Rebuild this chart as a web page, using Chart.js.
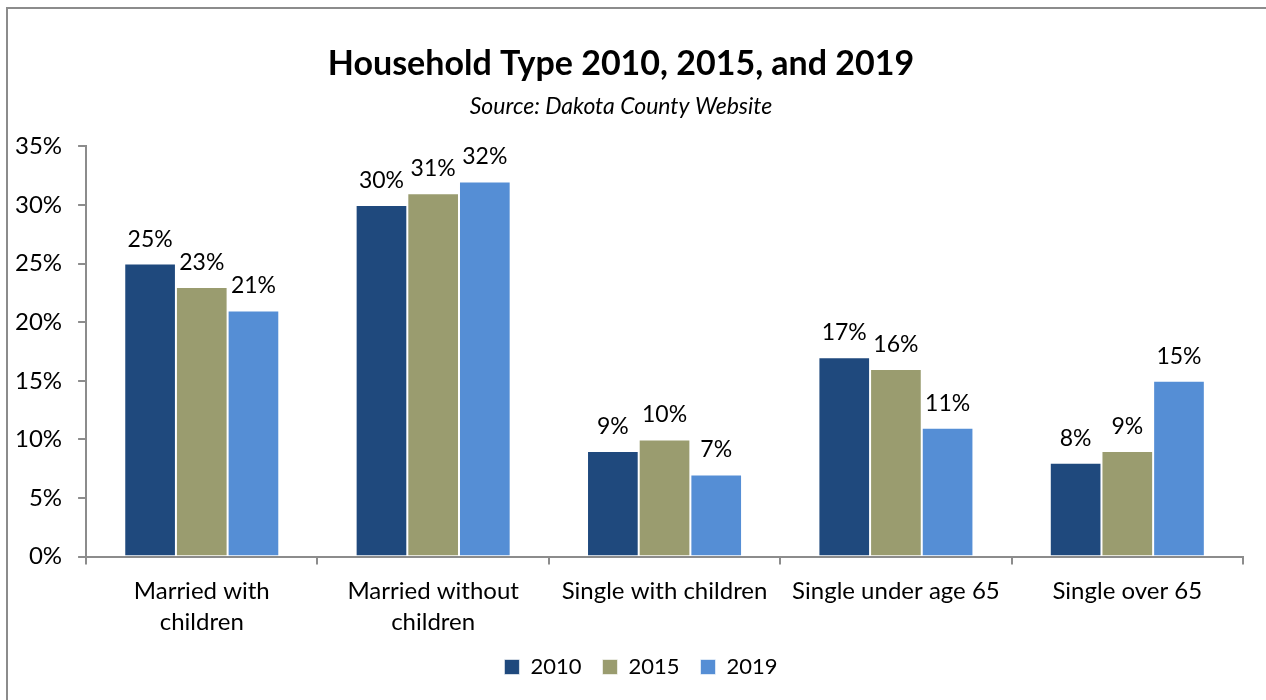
<!DOCTYPE html>
<html>
<head>
<meta charset="utf-8">
<script src="https://cdn.jsdelivr.net/npm/chart.js@4"></script>
<style>
  html, body { margin: 0; padding: 0; background: #fff; }
  #frame {
    position: absolute; left: 6px; top: 7px; width: 1260px; height: 693px;
    border-left: 2px solid #8c8c8c; border-top: 2px solid #8c8c8c;
  }
  #wrap { position: absolute; left: 0; top: 0; width: 1266px; height: 700px; }
</style>
</head>
<body>
<div id="frame"></div>
<div id="wrap"><canvas id="householdChart" width="1266" height="700"></canvas></div>
<script>
var categories = [['Married with', 'children'], ['Married without', 'children'], 'Single with children', 'Single under age 65', 'Single over 65'];
var years = ['2010', '2015', '2019'];
var values2010 = [25, 30, 9, 17, 8];
var values2015 = [23, 31, 10, 16, 9];
var values2019 = [21, 32, 7, 11, 15];
var yTicks = [0, 5, 10, 15, 20, 25, 30, 35];
var barColors = ['#1f497d', '#9a9c6f', '#558ed5'];

var fontFamily = 'Lato, "DejaVu Sans", sans-serif';

// Prints the percentage above each bar
var valueLabels = {
    id: 'valueLabels',
    afterDatasetsDraw: function (chart) {
        var ctx = chart.ctx;
        ctx.save();
        ctx.font = '23px ' + fontFamily;
        ctx.fillStyle = '#000';
        ctx.textAlign = 'center';
        ctx.textBaseline = 'bottom';
        chart.data.datasets.forEach(function (ds, i) {
            chart.getDatasetMeta(i).data.forEach(function (bar, j) {
                ctx.fillText(ds.data[j] + '%', bar.x, bar.y - 13);
            });
        });
        ctx.restore();
    }
};

// Nudges the legend a little right and up
var legendShift = {
    id: 'legendShift',
    afterLayout: function (chart) {
        var lg = chart.legend;
        lg.left += 20; lg.right += 20;
        lg.top -= 14; lg.bottom -= 14;
    }
};

var ctx = document.getElementById('householdChart').getContext('2d');
var householdChart = new Chart(ctx, {
    type: 'bar',
    data: {
        labels: categories,
        datasets: [
            { label: years[0], data: values2010, backgroundColor: barColors[0] },
            { label: years[1], data: values2015, backgroundColor: barColors[1] },
            { label: years[2], data: values2019, backgroundColor: barColors[2] }
        ]
    },
    options: {
        responsive: false,
        animation: false,
        layout: { padding: { left: -1, right: 23, top: 44, bottom: -2 } },
        datasets: {
            bar: {
                categoryPercentage: 0.67,
                barPercentage: 1.0,
                borderColor: 'rgba(255,255,255,0.6)',
                borderWidth: 1
            }
        },
        scales: {
            x: {
                grid: {
                    offset: true,
                    drawOnChartArea: false,
                    color: '#8c8c8c',
                    tickLength: 8,
                    lineWidth: 2
                },
                border: { color: '#8c8c8c', width: 2 },
                ticks: {
                    color: '#000',
                    font: { family: fontFamily, size: 24, lineHeight: 1.3 },
                    padding: 11,
                    maxRotation: 0,
                    autoSkip: false
                }
            },
            y: {
                min: 0,
                max: 35,
                afterBuildTicks: function (axis) {
                    axis.ticks = yTicks.map(function (v) { return { value: v }; });
                },
                grid: {
                    drawOnChartArea: false,
                    color: '#8c8c8c',
                    tickLength: 8,
                    lineWidth: 2
                },
                border: { color: '#8c8c8c', width: 2 },
                ticks: {
                    color: '#000',
                    font: { family: fontFamily, size: 24 },
                    padding: 16,
                    callback: function (v) { return v + '%'; }
                }
            }
        },
        plugins: {
            title: {
                display: true,
                text: 'Household Type 2010, 2015, and 2019',
                color: '#000',
                font: { family: fontFamily, size: 34, weight: 'bold' },
                padding: { top: 0, bottom: 8 }
            },
            subtitle: {
                display: true,
                text: 'Source: Dakota County Website',
                color: '#000',
                font: { family: fontFamily, size: 23, style: 'italic' },
                padding: { top: 0, bottom: 26 }
            },
            legend: {
                position: 'bottom',
                labels: {
                    color: '#000',
                    font: { family: fontFamily, size: 22 },
                    boxWidth: 15,
                    boxHeight: 15,
                    padding: 21
                }
            },
            tooltip: { enabled: false }
        }
    },
    plugins: [valueLabels, legendShift]
});
</script>
</body>
</html>
